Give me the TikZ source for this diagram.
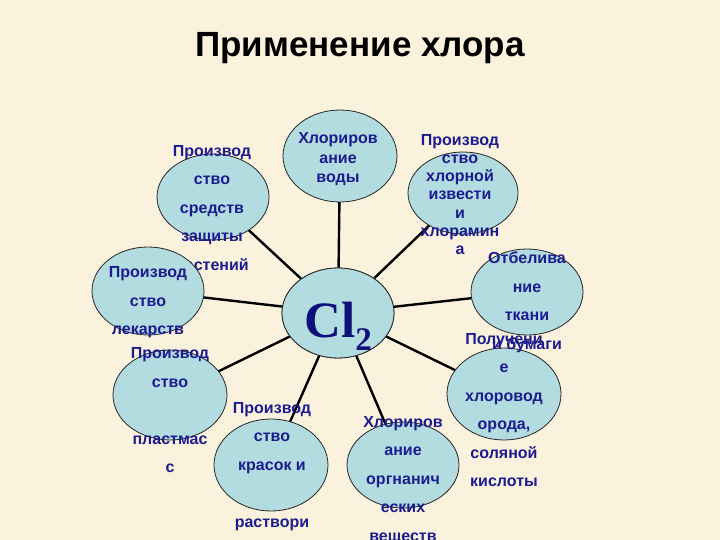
\documentclass[tikz,border=0pt]{standalone}
\usepackage{fontspec}
\setmainfont{Liberation Sans}
\newfontfamily\clserif{Liberation Serif}
\usetikzlibrary{shapes.geometric}
\definecolor{bg}{HTML}{FBF2DE}
\definecolor{efill}{HTML}{B3DCE0}
\definecolor{tblue}{HTML}{1C1C8E}
\definecolor{clblue}{HTML}{10107A}
\begin{document}
\begin{tikzpicture}[x=1pt,y=-1pt,
  bub/.style={ellipse,draw=black!85,line width=0.8pt,fill=efill,inner sep=0pt},
  conn/.style={line width=2.4pt,black},
  lbl/.style={text=tblue,align=center,inner sep=0pt,font=\bfseries\fontsize{16}{28.5}\selectfont}]
\fill[bg] (0,0) rectangle (720,540);
\useasboundingbox (0,0) rectangle (720,540);
\node[font=\bfseries\fontsize{35}{37}\selectfont] (title) at (360,48) {Применение хлора};
% ellipse positions
\node[bub,minimum width=112pt,minimum height=90pt] (c) at (338,313) {};
\coordinate (ptl) at (213,197);
\coordinate (ptop) at (340,156);
\coordinate (ptr) at (463,193);
\coordinate (pl) at (148,291);
\coordinate (pr) at (527,292);
\coordinate (pbl) at (170,395);
\coordinate (pb) at (271,465);
\coordinate (porg) at (403,465);
\coordinate (phcl) at (504,394);
% connectors
\foreach \p in {ptl,ptop,ptr,pl,pr,pbl,pb,porg,phcl}
  \draw[conn] (c) -- (\p);
\node[bub,minimum width=112pt,minimum height=90pt] (c2) at (338,313) {};
\node[text=clblue,inner sep=0pt,font=\clserif\bfseries\fontsize{51}{51}\selectfont] (cltext) at (338,326) {Cl\raisebox{-13pt}{\fontsize{33}{33}\selectfont 2}};
% top-left ellipse with its text
\node[bub,minimum width=112pt,minimum height=86pt] (tl) at (ptl) {};
\node[lbl] (ttl) at (212,209.5) {Производ\\ство\\средств\\защиты\\растений};
% other ellipses
\node[bub,minimum width=114pt,minimum height=92pt] (top) at (ptop) {};
\node[bub,minimum width=110pt,minimum height=82pt] (tr) at (ptr) {};
\node[bub,minimum width=112pt,minimum height=88pt] (l) at (pl) {};
\node[bub,minimum width=112pt,minimum height=86pt] (r) at (pr) {};
\node[bub,minimum width=114pt,minimum height=90pt] (bl) at (pbl) {};
\node[bub,minimum width=114pt,minimum height=92pt] (b) at (pb) {};
\node[bub,minimum width=112pt,minimum height=86pt] (org) at (porg) {};
\node[bub,minimum width=114pt,minimum height=92pt] (hcl) at (phcl) {};
% texts
\node[lbl,font=\bfseries\fontsize{16}{19.5}\selectfont] (ttop) at (338,159.5) {Хлориров\\ание\\воды};
\node[lbl,font=\bfseries\fontsize{16}{18.2}\selectfont] (ttr) at (460,194.5) {Производ\\ство\\хлорной\\извести\\и\\хлорамин\\а};
\node[lbl] (tl2) at (148,302.5) {Производ\\ство\\лекарств};
\node[lbl] (tbl) at (170,410.5) {Производ\\ство\\~\\пластмас\\с};
\node[lbl] (tb) at (272,466.5) {Производ\\ство\\красок и\\~\\раствори};
\node[lbl] (torg) at (403,480.5) {Хлориров\\ание\\оргнанич\\еских\\веществ};
\node[lbl] (thcl) at (504,410) {Получени\\е\\хлоровод\\орода,\\соляной\\кислоты};
\node[lbl] (tr2) at (527,302.5) {Отбелива\\ние\\ткани\\и бумаги};
\end{tikzpicture}
\end{document}
